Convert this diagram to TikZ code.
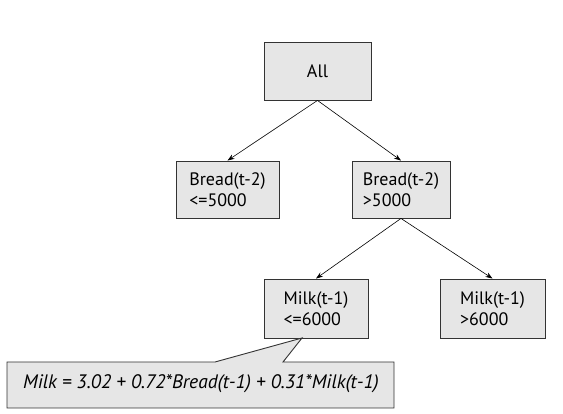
\documentclass[tikz,border=0pt]{standalone}
\usepackage{fontspec}
\setmainfont{PT Sans}
\usetikzlibrary{arrows.meta}
\definecolor{boxfill}{HTML}{E6E6E6}
\definecolor{boxline}{HTML}{333333}
\begin{document}
\begin{tikzpicture}[x=1pt,y=-1pt,
  treebox/.style={draw=boxline,fill=boxfill,line width=0.9pt,align=left,inner sep=0pt,font=\fontsize{18}{21}\selectfont},
  link/.style={-{Stealth[length=7pt,width=5pt]},line width=0.6pt}]
\useasboundingbox (0,0) rectangle (563,414);
\node[treebox,minimum width=107pt,minimum height=58pt] (all) at (317.5,71) {All};
\node[treebox,minimum width=103pt,minimum height=57pt] (b1) at (227.5,189.5) {Bread(t-2)\\<=5000};
\node[treebox,minimum width=98pt,minimum height=57pt] (b2) at (401,189.5) {Bread(t-2)\\>5000};
\node[treebox,minimum width=104pt,minimum height=59pt] (m1) at (316,308.5) {Milk(t-1)\\<=6000};
\node[treebox,minimum width=105pt,minimum height=59pt] (m2) at (492.5,308.5) {Milk(t-1)\\>6000};
\draw[link] (all.south) -- (b1.north);
\draw[link] (all.south) -- (b2.north);
\draw[link] (b2.south) -- (m1.north);
\draw[link] (b2.south) -- (m2.north);
\coordinate (tip) at (302,338);
\draw[draw=boxline,fill=boxfill,line width=0.9pt,line join=miter]
  (7,362) -- (215,362) -- (tip) -- (283,362) -- (394,362) -- (394,408) -- (7,408) -- cycle;
\node[font=\fontsize{19.5}{20}\selectfont\itshape,inner sep=0pt] (eq) at (201,384)
  {Milk = 3.02 + 0.72*Bread(t-1) + 0.31*Milk(t-1)};
\end{tikzpicture}
\end{document}
